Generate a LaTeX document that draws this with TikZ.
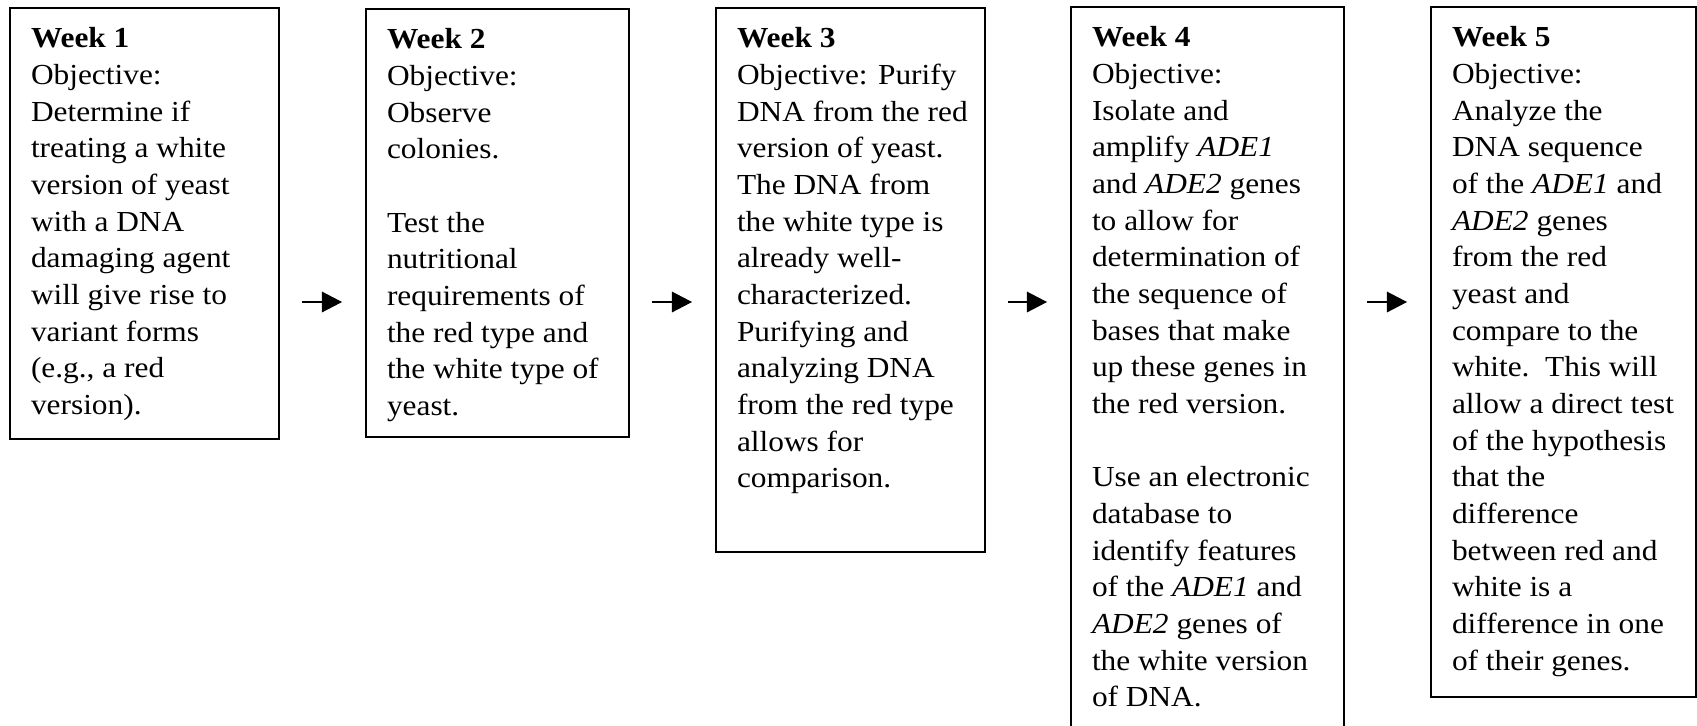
\documentclass[tikz,border=0pt]{standalone}
\usepackage{fontspec}
\setmainfont{Liberation Serif}[FakeStretch=1.08]
\usetikzlibrary{arrows.meta}
\newdimen\px \px=0.4132pt
\newcommand\wline[1]{\hbox{\strut #1}}
\newcommand\wkcontent[3]{\hbox to #2\px{\vbox to #1\px{#3\vfil}\hss}}
\tikzset{
  weekbox/.style={draw=black, line width=0.8pt, anchor=north west,
    inner xsep=8.68pt, inner ysep=5.8pt, outer sep=0pt,
    font=\fontsize{12pt}{15.15pt}\selectfont},
  flowarrow/.style={line width=0.5pt, -{Triangle[length=8.3pt,width=8.5pt]},
    shorten <=9.5pt, shorten >=9.9pt}
}
\begin{document}
\begin{tikzpicture}[x=0.4132pt, y=-0.4132pt]
\path[use as bounding box] (0,0) rectangle (1697,725);
\node[weekbox] (b1) at (10,8) {\wkcontent{403}{227}{%
  \wline{\textbf{Week 1}}
  \wline{Objective:}
  \wline{Determine if}
  \wline{treating a white}
  \wline{version of yeast}
  \wline{with a DNA}
  \wline{damaging agent}
  \wline{will give rise to}
  \wline{variant forms}
  \wline{(e.g., a red}
  \wline{version).}}};
\node[weekbox] (b2) at (366,9) {\wkcontent{400}{221}{%
  \wline{\textbf{Week 2}}
  \wline{Objective:}
  \wline{Observe}
  \wline{colonies.}
  \wline{}
  \wline{Test the}
  \wline{nutritional}
  \wline{requirements of}
  \wline{the red type and}
  \wline{the white type of}
  \wline{yeast.}}};
\node[weekbox] (b3) at (716,8) {\wkcontent{516}{227}{%
  \wline{\textbf{Week 3}}
  \wline{Objective: Purify}
  \wline{DNA from the red}
  \wline{version of yeast.}
  \wline{The DNA from}
  \wline{the white type is}
  \wline{already well-}
  \wline{characterized.}
  \wline{Purifying and}
  \wline{analyzing DNA}
  \wline{from the red type}
  \wline{allows for}
  \wline{comparison.}}};
\node[weekbox] (b4) at (1071,7) {\wkcontent{693}{231}{%
  \wline{\textbf{Week 4}}
  \wline{Objective:}
  \wline{Isolate and}
  \wline{amplify \textit{ADE1}}
  \wline{and \textit{ADE2} genes}
  \wline{to allow for}
  \wline{determination of}
  \wline{the sequence of}
  \wline{bases that make}
  \wline{up these genes in}
  \wline{the red version.}
  \wline{}
  \wline{Use an electronic}
  \wline{database to}
  \wline{identify features}
  \wline{of the \textit{ADE1} and}
  \wline{\textit{ADE2} genes of}
  \wline{the white version}
  \wline{of DNA.}}};
\node[weekbox] (b5) at (1431,7) {\wkcontent{662}{223}{%
  \wline{\textbf{Week 5}}
  \wline{Objective:}
  \wline{Analyze the}
  \wline{DNA sequence}
  \wline{of the \textit{ADE1} and}
  \wline{\textit{ADE2} genes}
  \wline{from the red}
  \wline{yeast and}
  \wline{compare to the}
  \wline{white.\ \ This will}
  \wline{allow a direct test}
  \wline{of the hypothesis}
  \wline{that the}
  \wline{difference}
  \wline{between red and}
  \wline{white is a}
  \wline{difference in one}
  \wline{of their genes.}}};
\coordinate (ay) at (0,302);
\draw[flowarrow] (b1.east |- ay) -- (b2.west |- ay);
\draw[flowarrow] (b2.east |- ay) -- (b3.west |- ay);
\draw[flowarrow] (b3.east |- ay) -- (b4.west |- ay);
\draw[flowarrow] (b4.east |- ay) -- (b5.west |- ay);
\end{tikzpicture}
\end{document}
